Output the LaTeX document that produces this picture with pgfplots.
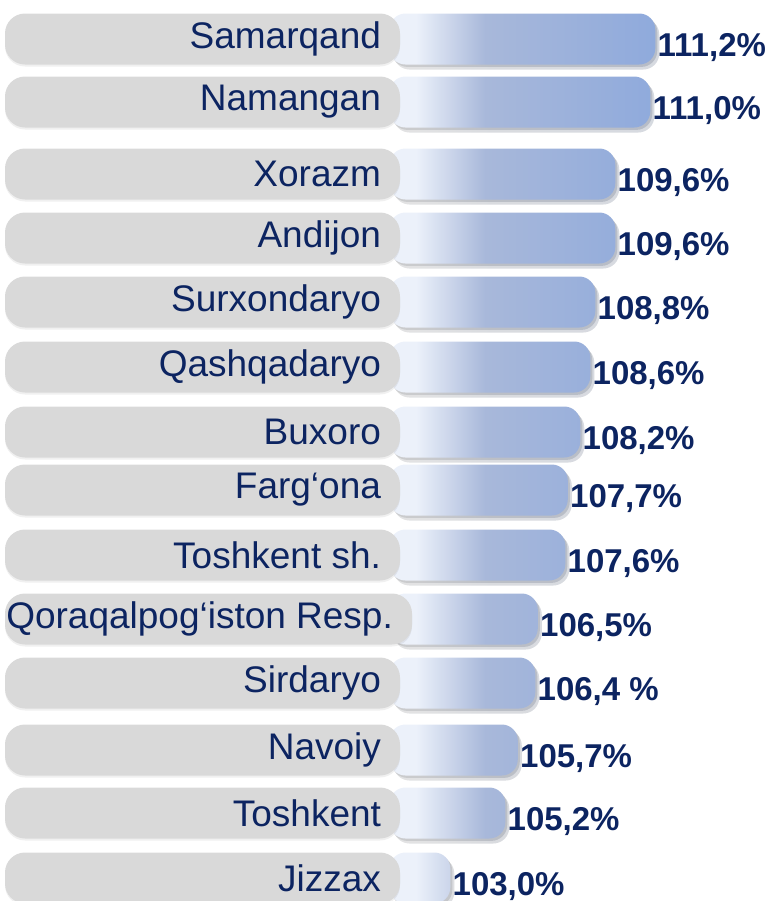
\documentclass[border=0pt]{standalone}
\usepackage{pgfplots}
\pgfplotsset{compat=1.18}
\usepackage{pgfplotstable}
\usetikzlibrary{shadows}
\usepackage{fontspec}
\setmainfont{Liberation Sans}
\definecolor{navy}{RGB}{12,36,97}
\definecolor{boxgray}{RGB}{217,217,217}
\definecolor{pale}{RGB}{236,241,250}
\definecolor{midblue}{RGB}{168,184,218}
\definecolor{barblue}{RGB}{143,170,220}
\pgfdeclarehorizontalshading{bluebar}{100bp}{color(0bp)=(pale); color(25bp)=(pale); color(30bp)=(pale); color(43bp)=(midblue); color(75bp)=(barblue); color(100bp)=(barblue)}
\pgfplotsset{base/.style={width=389pt,height=450.5pt,scale only axis,hide axis,
  y dir=reverse,ymin=0,ymax=901,xbar,bar width=25.5pt,
  point meta=explicit symbolic,nodes near coords={\pgfplotspointmeta}}}
\begin{document}
\pgfplotstableread[col sep=semicolon]{
row;name;box;v;lab
39;Samarqand;395;111.2;111,2\%
102;Namangan;395;111.0;111,0\%
174;Xorazm;395;109.6;109,6\%
238;Andijon;395;109.6;109,6\%
302;Surxondaryo;395;108.8;108,8\%
367;Qashqadaryo;395;108.6;108,6\%
432;Buxoro;395;108.2;108,2\%
490;Farg‘ona;395;107.7;107,7\%
555;Toshkent sh.;395;107.6;107,6\%
619;Qoraqalpog‘iston Resp.;407;106.5;106,5\%
683;Sirdaryo;395;106.4;106,4 \%
750;Navoiy;395;105.7;105,7\%
813;Toshkent;395;105.2;105,2\%
878;Jizzax;395;103.0;103,0\%
}\data
\begin{tikzpicture}
\begin{axis}[base, xmin=-15.58, xmax=15.54]
\addplot[draw=none, shading=bluebar, rounded corners=8pt,
  drop shadow={shadow xshift=2pt, shadow yshift=-2.5pt, opacity=0.12, fill=black},
  drop shadow={shadow xshift=1pt, shadow yshift=-1.2pt, opacity=0.12, fill=black},
  every node near coord/.append style={anchor=west, inner sep=1pt, yshift=-4.5pt,
  font=\bfseries\fontsize{16.5}{18}\selectfont, text=navy}]
  table[x expr=\thisrow{v}-100.57, y=row, meta=lab]{\data};
\end{axis}
\begin{axis}[base, xmin=-5, xmax=773]
\addplot[draw=none, fill=boxgray, rounded corners=10pt,
  drop shadow={shadow xshift=0pt, shadow yshift=-1pt, opacity=0.06, fill=black},
  every node near coord/.append style={anchor=east, xshift=-6pt,
  font=\fontsize{18.5}{20}\selectfont, text=navy}]
  table[x=box, y=row, meta=name]{\data};
\end{axis}
\pgfresetboundingbox
\useasboundingbox (0,0) rectangle (389pt,450.5pt);
\end{tikzpicture}
\end{document}
